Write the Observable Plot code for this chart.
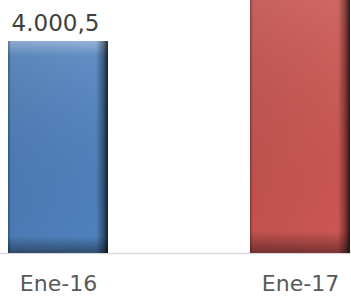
<!DOCTYPE html>
<html>
<head>
<meta charset="utf-8">
<script src="https://cdn.jsdelivr.net/npm/d3@7"></script>
<script src="https://cdn.jsdelivr.net/npm/@observablehq/plot@0.6"></script>
<style>
  html, body { margin: 0; padding: 0; background: #fff; }
</style>
</head>
<body>
<div id="chart"></div>
<script>
const categories = ["Ene-16", "Ene-17"];
const values = [4000.5, 5150];
const labels = ["4.000,5", "5.150,0"];
const colors = ["#4F81BD", "#CB5653"];

const data = categories.map((c, i) => ({cat: c, value: values[i], label: labels[i], color: colors[i]}));

const W = 351, H = 297;
const chart = Plot.plot({
  width: W,
  height: H,
  marginTop: 0,
  marginLeft: 0,
  marginRight: 0,
  marginBottom: 44,
  style: {background: "#fff", fontFamily: "DejaVu Sans"},
  x: {domain: categories, range: [7.5, 350], paddingInner: 0.5876, paddingOuter: 0, label: null},
  y: {domain: [0, 4774], axis: null},
  marks: [
    Plot.ruleY([0], {stroke: "#d9d9d9", strokeWidth: 1.5}),
    Plot.barY(data, {x: "cat", y: "value", fill: "color", clip: "frame"}),
    Plot.barY(data, {x: "cat", y: "value", fill: "url(#vgrad)", clip: "frame"}),
    Plot.barY(data, {x: "cat", y: "value", fill: "url(#hgrad)", clip: "frame"}),
    Plot.text(data.filter(d => d.value <= 4774), {x: "cat", y: "value", text: "label", dy: -10, dx: -3, lineAnchor: "bottom", fill: "#404040", fontSize: 23}),
    Plot.axisX({tickSize: 0, tickPadding: 22, fontSize: 22, color: "#595959", label: null})
  ]
});

const ns = "http://www.w3.org/2000/svg";
const defs = document.createElementNS(ns, "defs");
defs.innerHTML = `
<linearGradient id="hgrad" x1="0" y1="0" x2="1" y2="0">
  <stop offset="0" stop-color="#000" stop-opacity="0.35"/>
  <stop offset="0.03" stop-color="#000" stop-opacity="0.05"/>
  <stop offset="0.88" stop-color="#000" stop-opacity="0"/>
  <stop offset="0.95" stop-color="#000" stop-opacity="0.35"/>
  <stop offset="1" stop-color="#000" stop-opacity="0.75"/>
</linearGradient>
<linearGradient id="vgrad" x1="0" y1="0" x2="0" y2="1">
  <stop offset="0" stop-color="#fff" stop-opacity="0.4"/>
  <stop offset="0.07" stop-color="#fff" stop-opacity="0.1"/>
  <stop offset="0.92" stop-color="#000" stop-opacity="0"/>
  <stop offset="1" stop-color="#000" stop-opacity="0.4"/>
</linearGradient>`;
chart.insertBefore(defs, chart.firstChild);
document.getElementById("chart").appendChild(chart);
</script>
</body>
</html>
